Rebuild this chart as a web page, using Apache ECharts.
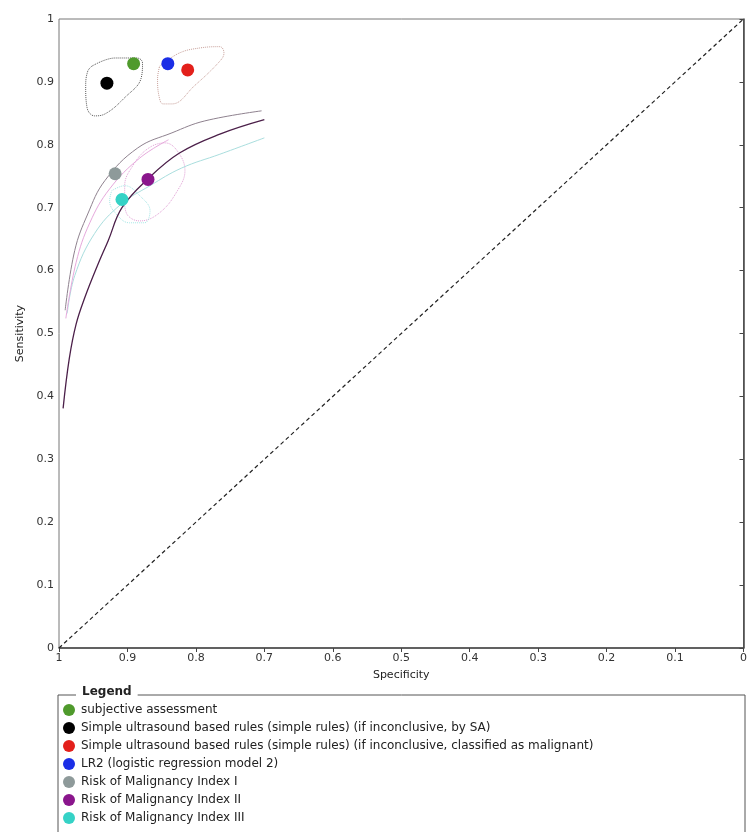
<!DOCTYPE html>
<html>
<head>
<meta charset="utf-8">
<script src="https://cdn.jsdelivr.net/npm/echarts@6/dist/echarts.min.js"></script>
<style>
  html, body { margin: 0; padding: 0; background: #fff; }
  #chart { width: 750px; height: 832px; }
</style>
</head>
<body>
<div id="chart"></div>
<script>
// study points: [specificity, sensitivity]
var pointNames = [
	'subjective assessment',
	'Simple ultrasound based rules (simple rules) (if inconclusive, by SA)',
	'Simple ultrasound based rules (simple rules) (if inconclusive, classified as malignant)',
	'LR2 (logistic regression model 2)',
	'Risk of Malignancy Index I',
	'Risk of Malignancy Index II',
	'Risk of Malignancy Index III'
];
var pointColors = ['#4f9a2c', '#000000', '#e3201b', '#1b2ee6', '#8e9a9a', '#8a168c', '#35d2c6'];
var pointSpec = [0.891, 0.930, 0.812, 0.841, 0.918, 0.870, 0.908];
var pointSens = [0.929, 0.898, 0.919, 0.929, 0.754, 0.745, 0.713];

// summary ROC curve and its bands
var srocCurve = [[0.994,0.381],[0.985,0.460],[0.975,0.515],[0.962,0.558],[0.945,0.605],[0.928,0.648],[0.908,0.700],[0.870,0.746],[0.824,0.787],[0.765,0.817],[0.700,0.840]];
var upperBand = [[0.991,0.537],[0.977,0.632],[0.958,0.690],[0.933,0.743],[0.885,0.795],[0.835,0.819],[0.787,0.838],[0.704,0.854]];
var pinkBand = [[0.990,0.524],[0.975,0.613],[0.955,0.676],[0.926,0.730],[0.882,0.779],[0.840,0.808]];
var cyanBand = [[0.988,0.532],[0.977,0.592],[0.948,0.659],[0.910,0.705],[0.867,0.735],[0.821,0.763],[0.765,0.785],[0.700,0.811]];
var diagonal = [[1,0],[0,1]];

// confidence regions
var regionSA = [[0.952,0.925],[0.918,0.938],[0.886,0.938],[0.878,0.930],[0.880,0.906],[0.904,0.875],[0.933,0.849],[0.948,0.846],[0.959,0.859],[0.961,0.894],[0.958,0.917],[0.952,0.925]];
var regionLR = [[0.853,0.925],[0.824,0.946],[0.794,0.954],[0.765,0.956],[0.759,0.946],[0.765,0.933],[0.802,0.894],[0.835,0.865],[0.848,0.865],[0.854,0.878],[0.856,0.905],[0.853,0.925]];
var regionRMI2 = [[0.904,0.703],[0.899,0.687],[0.882,0.679],[0.853,0.692],[0.827,0.727],[0.816,0.759],[0.827,0.790],[0.845,0.803],[0.870,0.794],[0.892,0.767],[0.904,0.735],[0.904,0.703]];
var regionRMI3 = [[0.923,0.727],[0.904,0.735],[0.882,0.719],[0.867,0.695],[0.875,0.676],[0.897,0.676],[0.918,0.692],[0.926,0.711],[0.923,0.727]];

var font = 'DejaVu Sans';

function lineSeries(data, color, width, type, smooth) {
	return {
		type: 'line',
		data: data,
		smooth: smooth,
		showSymbol: false,
		silent: true,
		lineStyle: { color: color, width: width, type: type },
		z: 2
	};
}

var series = [
	lineSeries(diagonal, '#222', 1.2, [4, 3], false),
	lineSeries(regionSA, '#555', 1, 'dotted', 0.4),
	lineSeries(regionLR, '#c8a09a', 1, 'dotted', 0.4),
	lineSeries(regionRMI2, '#e2a0d6', 1, 'dotted', 0.4),
	lineSeries(regionRMI3, '#a6e6e6', 1, 'dotted', 0.4),
	lineSeries(cyanBand, '#a9dede', 1, 'solid', 0.4),
	lineSeries(pinkBand, '#e6a8dc', 1, 'solid', 0.4),
	lineSeries(upperBand, '#8f828f', 1, 'solid', 0.4),
	lineSeries(srocCurve, '#4b1f49', 1.3, 'solid', 0.4)
];

pointNames.forEach(function (name, i) {
	series.push({
		name: name,
		type: 'scatter',
		data: [[pointSpec[i], pointSens[i]]],
		symbolSize: 13,
		itemStyle: { color: pointColors[i], opacity: 1 },
		z: 5
	});
});

var chart = echarts.init(document.getElementById('chart'));
chart.setOption({
	animation: false,
	backgroundColor: '#fff',
	textStyle: { fontFamily: font },
	grid: { left: 59, right: 5, top: 19, bottom: 184, show: true, borderColor: '#777', borderWidth: 1 },
	xAxis: {
		type: 'value', inverse: true, min: 0, max: 1, interval: 0.1,
		name: 'Specificity', nameLocation: 'middle', nameGap: 22,
		nameTextStyle: { fontSize: 11, color: '#222', fontFamily: font },
		axisLine: { lineStyle: { color: '#444', width: 1.5 } },
		axisTick: { length: 4, lineStyle: { color: '#444' } },
		axisLabel: { fontSize: 11, color: '#333', fontFamily: font, margin: 5 },
		splitLine: { show: false }
	},
	yAxis: {
		type: 'value', min: 0, max: 1, interval: 0.1,
		name: 'Sensitivity', nameLocation: 'middle', nameGap: 33,
		nameTextStyle: { fontSize: 11, color: '#222', fontFamily: font },
		axisLine: { show: true, lineStyle: { color: '#444', width: 1.5 } },
		axisTick: { show: true, length: 4, lineStyle: { color: '#444' } },
		axisLabel: { fontSize: 11, color: '#333', fontFamily: font, margin: 5 },
		splitLine: { show: false }
	},
	legend: {
		data: pointNames,
		orient: 'vertical',
		left: 63,
		top: 704,
		padding: 0,
		itemWidth: 12,
		itemHeight: 12,
		itemGap: 6,
		icon: 'circle',
		selectedMode: false,
		textStyle: { fontSize: 12, color: '#222', fontFamily: font, padding: [0, 0, 0, 1] }
	},
	graphic: [
		{
			type: 'rect',
			shape: { x: 58, y: 695, width: 687, height: 200 },
			style: { fill: 'none', stroke: '#555', lineWidth: 1 },
			silent: true
		},
		{
			type: 'text',
			left: 76,
			top: 686,
			style: {
				text: 'Legend', fontSize: 12, fontWeight: 'bold', fill: '#222', fontFamily: font,
				backgroundColor: '#fff', padding: [0, 6, 0, 6]
			},
			silent: true
		}
	],
	series: series
});
</script>
</body>
</html>
